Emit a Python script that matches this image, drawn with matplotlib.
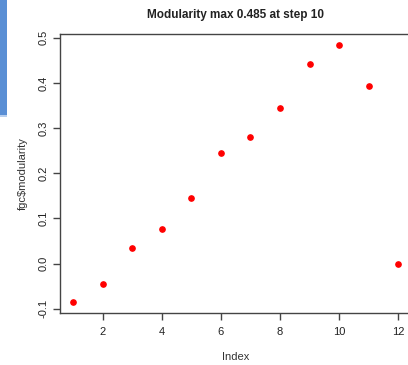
import matplotlib
matplotlib.use("Agg")
import matplotlib.pyplot as plt
from matplotlib.patches import Rectangle

plt.rcParams['font.family'] = ['Liberation Sans', 'DejaVu Sans']

index = [1, 2, 3, 4, 5, 6, 7, 8, 9, 10, 11, 12]
modularity = [-0.086, -0.044, 0.035, 0.076, 0.146, 0.244, 0.280, 0.344, 0.441, 0.485, 0.394, 0.0]
xticks = [2, 4, 6, 8, 10, 12]
yticks = [-0.1, 0.0, 0.1, 0.2, 0.3, 0.4, 0.5]
ytick_labels = ["-0.1", "0.0", "0.1", "0.2", "0.3", "0.4", "0.5"]

W, H = 408, 365
fig = plt.figure(figsize=(W / 100, H / 100), dpi=100)
fig.patch.set_facecolor('white')

# blue strip at left edge
fig.patches.append(Rectangle((0, 1 - 115 / H), 7 / W, 115 / H, transform=fig.transFigure,
                             facecolor='#5a8fd5', edgecolor='none'))
fig.patches.append(Rectangle((0, 1 - 117 / H), 7 / W, 2 / H, transform=fig.transFigure,
                             facecolor='#b8cfee', edgecolor='none'))

left, right, top, bottom = 60, 411.4, 34.2, 312.8
ax = fig.add_axes([left / W, 1 - bottom / H, (right - left) / W, (bottom - top) / H])
ax.plot(index, modularity, 'o', color='red', ms=3.8, mec='red')

xmin, xmax = min(index), max(index)
dx = (xmax - xmin) * 0.04
ax.set_xlim(xmin - dx, xmax + dx)
ymin, ymax = min(modularity), max(modularity)
dy = (ymax - ymin) * 0.04
ax.set_ylim(ymin - dy, ymax + dy)

ax.set_xticks(xticks)
ax.set_xticklabels([str(t) for t in xticks])
ax.set_yticks(yticks)
ax.set_yticklabels(ytick_labels, rotation=90, va='center')

for s in ax.spines.values():
    s.set_color('#444444')
    s.set_linewidth(1.0)

ax.tick_params(axis='both', direction='out', length=5, width=1.0, color='#444444',
               labelsize=8, labelcolor='#222222')
ax.tick_params(axis='x', pad=5)
ax.tick_params(axis='y', pad=3)

ax.set_title("Modularity max 0.485 at step 10", fontsize=8.5, fontweight='bold',
             color='#222222', pad=12)
ax.set_xlabel("Index", fontsize=8, color='#333333', labelpad=11)
ax.set_ylabel("fgc$modularity", fontsize=8, color='#333333', labelpad=8)

fig.savefig("out.png", dpi=100)
